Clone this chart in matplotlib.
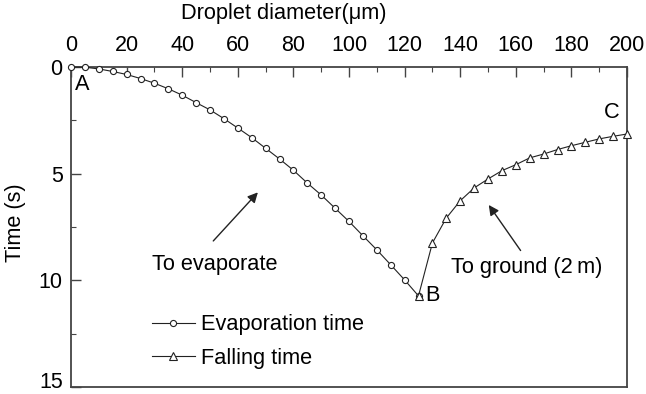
import matplotlib.pyplot as plt
from matplotlib.ticker import MultipleLocator

plt.rcParams["font.family"] = ["Liberation Sans", "DejaVu Sans"]

# droplet diameter (um) and time (s)
evap_diameter = [0, 5, 10, 15, 20, 25, 30, 35, 40, 45, 50, 55, 60,
                 65, 70, 75, 80, 85, 90, 95, 100, 105, 110, 115, 120, 125]
evap_time = [0.0, 0.01, 0.09, 0.21, 0.35, 0.54, 0.76, 1.02, 1.32, 1.67, 2.01,
             2.42, 2.86, 3.31, 3.81, 4.31, 4.84, 5.44, 6.0, 6.62, 7.24, 7.91,
             8.57, 9.27, 9.98, 10.73]

fall_diameter = [125, 130, 135, 140, 145, 150, 155, 160, 165, 170, 175,
                 180, 185, 190, 195, 200]
fall_time = [10.73, 8.25, 7.08, 6.27, 5.67, 5.25, 4.86, 4.58, 4.26, 4.08,
             3.87, 3.69, 3.53, 3.37, 3.25, 3.14]

x_ticks = [0, 20, 40, 60, 80, 100, 120, 140, 160, 180, 200]
y_ticks = [0, 5, 10, 15]

FS = 15.7      # labels and annotations
TICK_FS = 15.5
LINE = "#222222"
SPINE = "#444444"

fig = plt.figure(figsize=(6.46, 3.94), dpi=100)
ax = fig.add_axes([71 / 646, 1 - 387 / 394, 556 / 646, 320 / 394])

ax.plot(evap_diameter, evap_time, color=LINE, lw=0.8, marker="o", ms=4.4,
        mfc="white", mec=LINE, mew=0.8, clip_on=False, zorder=3,
        label="Evaporation time")
ax.plot(fall_diameter, fall_time, color=LINE, lw=0.8, marker="^", ms=5.4,
        mfc="white", mec=LINE, mew=0.8, clip_on=False, zorder=4,
        label="Falling time")

ax.set_xlim(0, 200)
ax.set_ylim(15, 0)
ax.xaxis.tick_top()
ax.set_xticks(x_ticks)
ax.set_yticks(y_ticks)
# last y label is drawn by hand: it sits a bit above the bottom spine
ax.set_yticklabels([str(v) for v in y_ticks[:-1]] + [""])
ax.xaxis.set_minor_locator(MultipleLocator(10))
ax.yaxis.set_minor_locator(MultipleLocator(2.5))
ax.tick_params(which="both", direction="in", labelsize=TICK_FS,
               top=True, bottom=False, left=True, right=False, color=SPINE)
ax.tick_params(which="major", length=7, width=1.0)
ax.tick_params(which="minor", length=3.5, width=0.8)
ax.tick_params(axis="x", pad=8)
ax.tick_params(axis="y", pad=6)
for s in ax.spines.values():
    s.set_color(SPINE)
    s.set_linewidth(1.3)

ax.annotate(str(y_ticks[-1]), xy=(0, y_ticks[-1]), xytext=(-6, 3.5),
            textcoords="offset points", ha="right", va="center",
            fontsize=TICK_FS, annotation_clip=False)

fig.text(284 / 646, 1 - 13 / 394, "Droplet diameter(\u03bcm)", fontsize=FS,
         ha="center", va="center")
fig.text(16 / 646, 1 - 223 / 394, "Time (s)", fontsize=FS, rotation=90,
         ha="center", va="center")

ax.text(3.9, 0.82, "A", fontsize=FS, ha="center", va="center")
ax.text(130, 10.7, "B", fontsize=FS, ha="center", va="center")
ax.text(194.6, 2.14, "C", fontsize=FS, ha="center", va="center")

arrow = dict(arrowstyle="-|>", color=LINE, lw=1.0, mutation_scale=15)
ax.annotate("", xy=(67.9, 5.78), xytext=(50.5, 8.25), arrowprops=arrow)
ax.annotate("", xy=(149.7, 6.36), xytext=(162.3, 8.71), arrowprops=arrow)
ax.text(29, 9.28, "To evaporate", fontsize=FS, ha="left", va="center")
ax.text(136.7, 9.42, "To ground (2\u2009m)", fontsize=FS, ha="left",
        va="center")

ax.legend(loc="upper left", bbox_to_anchor=(29.0 / 200, 1 - 11.6 / 15),
          frameon=False, fontsize=FS, handlelength=1.97, handletextpad=0.31,
          labelspacing=0.58, borderpad=0, borderaxespad=0)

fig.savefig("out.png", dpi=100)
